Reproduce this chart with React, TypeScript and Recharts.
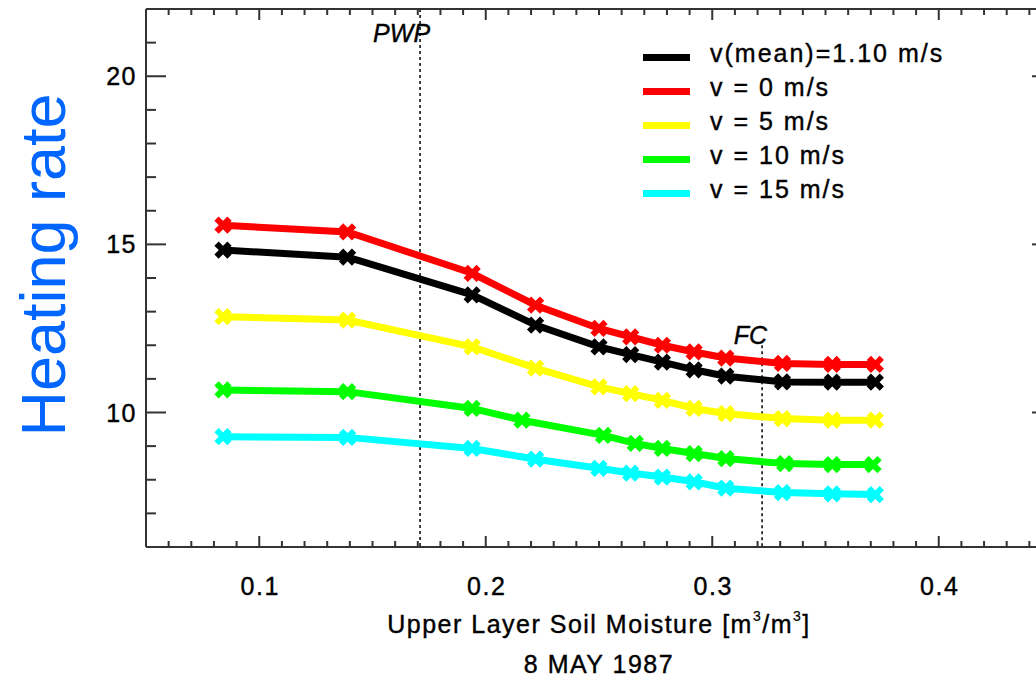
import { LineChart, Line, XAxis, YAxis, ReferenceLine, Label } from "recharts";

// soil moisture of each run [m3/m3]
const xMoisture = [0.084, 0.139, 0.194, 0.222, 0.25, 0.264, 0.278, 0.292, 0.306, 0.331, 0.353, 0.372];
const xMoistureV10 = [0.084, 0.139, 0.194, 0.216, 0.252, 0.266, 0.278, 0.292, 0.306, 0.332, 0.353, 0.371];

// heating rate per wind speed
const heatVMean = [14.83, 14.62, 13.5, 12.6, 11.95, 11.72, 11.5, 11.27, 11.08, 10.91, 10.9, 10.9];
const heatV0 = [15.57, 15.37, 14.14, 13.19, 12.5, 12.25, 12.0, 11.8, 11.62, 11.46, 11.43, 11.43];
const heatV5 = [12.85, 12.75, 11.95, 11.32, 10.76, 10.56, 10.36, 10.12, 9.97, 9.82, 9.77, 9.77];
const heatV10 = [10.67, 10.62, 10.12, 9.77, 9.32, 9.08, 8.93, 8.78, 8.63, 8.48, 8.45, 8.45];
const heatV15 = [9.28, 9.26, 8.93, 8.61, 8.34, 8.2, 8.08, 7.94, 7.75, 7.62, 7.58, 7.56];

const seriesNames = ["v(mean)=1.10 m/s", "v = 0 m/s", "v = 5 m/s", "v = 10 m/s", "v = 15 m/s"];
const seriesColors = ["#000000", "#ff0000", "#ffff00", "#00ff00", "#00ffff"];

const xMajorTicks = [0.1, 0.2, 0.3, 0.4];
const yMajorTicks = [10, 15, 20];
const X_DOMAIN = [0.05, 0.45];
const Y_DOMAIN = [6, 22];
const PWP = 0.171;
const FC = 0.322;
const FC_TOP = 12;

const xTicks = Array.from({ length: 39 }, (_, i) => Math.round((0.06 + i * 0.01) * 100) / 100);
const yTicks = Array.from({ length: 15 }, (_, i) => 7 + i);

const FONT = '"Liberation Sans", Arial, Helvetica, sans-serif';
const AXIS = "#333333";
const TEXT = { fontFamily: FONT, fontSize: 25, fill: "#000", stroke: "#000", strokeWidth: 0.4, letterSpacing: 1.5 };

const toRows = (xs: number[], ys: number[]) => xs.map((x, i) => ({ x, y: ys[i] }));

const series = [
  { data: toRows(xMoisture, heatVMean) },
  { data: toRows(xMoisture, heatV0) },
  { data: toRows(xMoisture, heatV5) },
  { data: toRows(xMoistureV10, heatV10) },
  { data: toRows(xMoisture, heatV15) },
].map((s, i) => ({ ...s, name: seriesNames[i], color: seriesColors[i] }));

const isMajor = (v: number, majors: number[]) => majors.some((m) => Math.abs(m - v) < 1e-6);

function BottomTick({ x, y, payload }: any) {
  const major = isMajor(payload.value, xMajorTicks);
  return (
    <g>
      <line x1={x} x2={x} y1={y} y2={y - (major ? 11 : 6)} stroke={AXIS} strokeWidth={2} />
      {major && (
        <text x={x + 1} y={y + 48} textAnchor="middle" {...TEXT}>
          {payload.value}
        </text>
      )}
    </g>
  );
}

function TopTick({ x, y, payload }: any) {
  const major = isMajor(payload.value, xMajorTicks);
  return <line x1={x} x2={x} y1={y} y2={y + (major ? 11 : 6)} stroke={AXIS} strokeWidth={2} />;
}

function LeftTick({ x, y, payload }: any) {
  const major = isMajor(payload.value, yMajorTicks);
  return (
    <g>
      <line x1={x} x2={x + (major ? 20 : 10)} y1={y} y2={y} stroke={AXIS} strokeWidth={2} />
      {major && (
        <text x={x - 9} y={y + 9} textAnchor="end" {...TEXT}>
          {payload.value}
        </text>
      )}
    </g>
  );
}

function RightTick({ x, y, payload }: any) {
  const major = isMajor(payload.value, yMajorTicks);
  return <line x1={x} x2={x - (major ? 20 : 10)} y1={y} y2={y} stroke={AXIS} strokeWidth={2} />;
}

function XMark(props: any) {
  const { cx, cy, stroke } = props;
  const r = 6.5;
  return (
    <path
      d={`M${cx - r},${cy - r}L${cx + r},${cy + r}M${cx - r},${cy + r}L${cx + r},${cy - r}`}
      stroke={stroke}
      strokeWidth={6}
      fill="none"
    />
  );
}

function LegendBox() {
  return (
    <div
      style={{
        position: "absolute",
        left: 643,
        top: 41,
        fontFamily: FONT,
        fontSize: 25,
        letterSpacing: 2,
        color: "#000",
        WebkitTextStroke: "0.4px #000",
      }}
    >
      {series.map((s) => (
        <div key={s.name} style={{ display: "flex", alignItems: "center", height: 33.8 }}>
          <span style={{ display: "inline-block", width: 47, height: 7, background: s.color, marginRight: 20 }} />
          <span style={{ whiteSpace: "pre", marginTop: -8 }}>{s.name}</span>
        </div>
      ))}
    </div>
  );
}

const refLabel = (text: string, dx: number, dy: number) => (props: any) => {
  const vb = props.viewBox;
  return (
    <text x={vb.x + dx} y={vb.y + dy} textAnchor="end" {...TEXT} letterSpacing={0} fontStyle="italic">
      {text}
    </text>
  );
};

export default function App() {
  return (
    <div
      style={{
        position: "fixed",
        left: 0,
        top: 0,
        width: 1036,
        height: 680,
        overflow: "hidden",
        background: "#fff",
      }}
    >
      <LineChart width={1060} height={680} data={series[0].data} margin={{ top: 8, right: 7, bottom: 132, left: 145 }}>
        <XAxis
          xAxisId="bottom"
          dataKey="x"
          type="number"
          domain={X_DOMAIN}
          allowDataOverflow
          ticks={xTicks}
          interval={0}
          height={1}
          tickSize={0}
          tickMargin={0}
          tickLine={false}
          axisLine={{ stroke: AXIS, strokeWidth: 2 }}
          tick={(p: any) => <BottomTick {...p} />}
        >
          <Label
            content={(p: any) => {
              const vb = p.viewBox;
              const cx = vb.x + vb.width / 2;
              return (
                <g>
                  <text x={cx} y={vb.y + 86} textAnchor="middle" {...TEXT}>
                    Upper Layer Soil Moisture [m
                    <tspan fontSize={14} strokeWidth={0.2} dy={-12}>3</tspan>
                    <tspan dy={12}>/m</tspan>
                    <tspan fontSize={14} strokeWidth={0.2} dy={-12}>3</tspan>
                    <tspan dy={12}>]</tspan>
                  </text>
                  <text x={cx} y={vb.y + 126} textAnchor="middle" {...TEXT}>
                    8 MAY 1987
                  </text>
                </g>
              );
            }}
          />
        </XAxis>
        <XAxis
          xAxisId="top"
          orientation="top"
          dataKey="x"
          type="number"
          domain={X_DOMAIN}
          allowDataOverflow
          ticks={xTicks}
          interval={0}
          height={1}
          tickSize={0}
          tickMargin={0}
          tickLine={false}
          axisLine={{ stroke: AXIS, strokeWidth: 2 }}
          tick={(p: any) => <TopTick {...p} />}
        />
        <YAxis
          yAxisId="left"
          dataKey="y"
          type="number"
          domain={Y_DOMAIN}
          allowDataOverflow
          ticks={yTicks}
          interval={0}
          width={1}
          tickSize={0}
          tickMargin={0}
          tickLine={false}
          axisLine={{ stroke: AXIS, strokeWidth: 2 }}
          tick={(p: any) => <LeftTick {...p} />}
        >
          <Label
            content={(p: any) => {
              const vb = p.viewBox;
              const x = vb.x - 80;
              const y = vb.y + vb.height / 2 - 13;
              return (
                <text
                  x={x}
                  y={y}
                  transform={`rotate(-90, ${x}, ${y})`}
                  textAnchor="middle"
                  fontSize={63}
                  fill="#0066ff"
                  fontFamily={FONT}
                >
                  Heating rate
                </text>
              );
            }}
          />
        </YAxis>
        <YAxis
          yAxisId="right"
          orientation="right"
          dataKey="y"
          type="number"
          domain={Y_DOMAIN}
          allowDataOverflow
          ticks={yTicks}
          interval={0}
          width={1}
          tickSize={0}
          tickMargin={0}
          tickLine={false}
          axisLine={{ stroke: AXIS, strokeWidth: 2 }}
          tick={(p: any) => <RightTick {...p} />}
        />
        <ReferenceLine
          xAxisId="bottom"
          yAxisId="left"
          segment={[{ x: PWP, y: Y_DOMAIN[1] }, { x: PWP, y: Y_DOMAIN[0] }]}
          stroke="#000"
          strokeWidth={1.5}
          strokeDasharray="3 3"
          label={refLabel("PWP", 10, 33)}
        />
        <ReferenceLine
          xAxisId="bottom"
          yAxisId="left"
          segment={[{ x: FC, y: FC_TOP }, { x: FC, y: Y_DOMAIN[0] }]}
          stroke="#000"
          strokeWidth={1.5}
          strokeDasharray="3 3"
          label={refLabel("FC", 5, -1)}
        />
        {series.map((s) => (
          <Line
            key={s.name}
            xAxisId="bottom"
            yAxisId="left"
            data={s.data}
            dataKey="y"
            name={s.name}
            type="linear"
            stroke={s.color}
            strokeWidth={7}
            dot={(p: any) => <XMark key={p.index} cx={p.cx} cy={p.cy} stroke={s.color} />}
            activeDot={false}
            isAnimationActive={false}
          />
        ))}
      </LineChart>
      <LegendBox />
    </div>
  );
}
